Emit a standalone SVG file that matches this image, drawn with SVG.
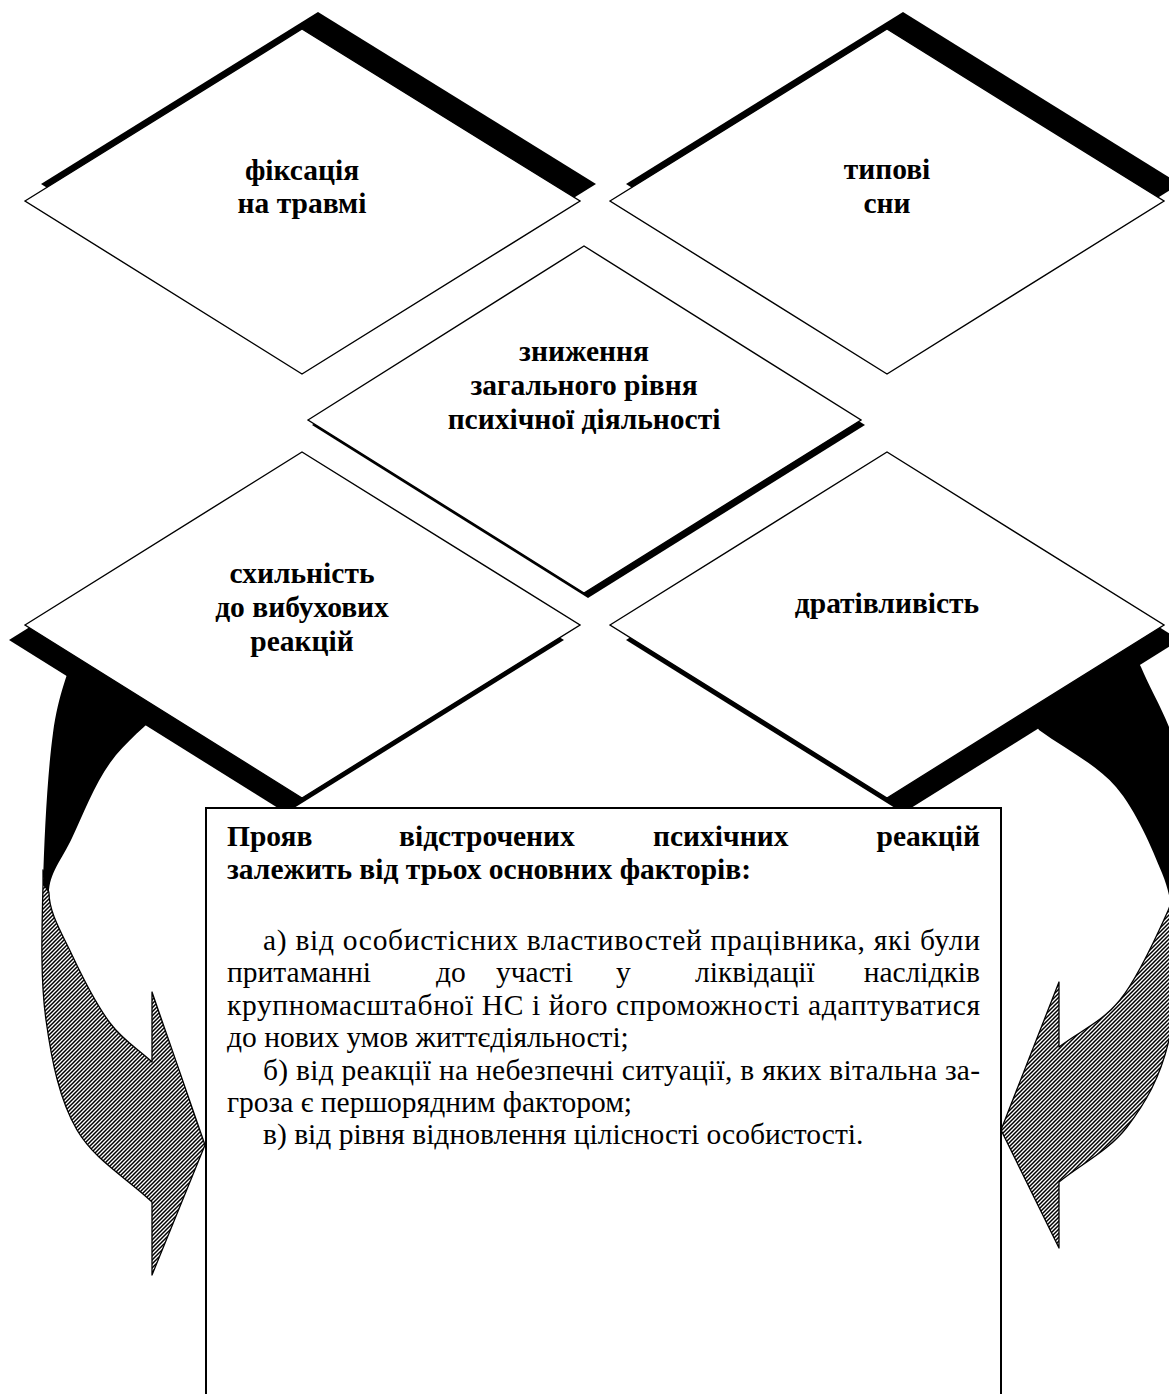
<svg xmlns="http://www.w3.org/2000/svg" width="1169" height="1394" viewBox="0 0 1169 1394">
<defs>
<pattern id="hatch" patternUnits="userSpaceOnUse" width="4" height="4">
<rect width="4" height="4" fill="#fff"/>
<path d="M-1,1 L1,-1 M0,4 L4,0 M3,5 L5,3" stroke="#000" stroke-width="1.5"/>
</pattern>
<style>
.dia{fill:#fff;stroke:#000;stroke-width:1.4}
.sh{fill:#000}
.hat{fill:url(#hatch);stroke:#000;stroke-width:1.3;stroke-linejoin:round}
.blk{fill:#000}
.lbl{font-weight:bold;font-size:29.5px;text-anchor:middle;fill:#000}
.bt{font-size:29.5px;fill:#000}
.bb{font-weight:bold}
.box{fill:#fff;stroke:#000;stroke-width:2}
</style>
</defs>
<rect width="1169" height="1394" fill="#fff"/>

<g id="connectors">
<g id="arrow-left">
<path class="hat" d="M43,870 L43,885 C41.8,932.8 40.3,979.2 46,1020 C51.7,1060.8 59.3,1099.7 77,1130 C94.7,1160.3 127,1178 152,1202 L152,1275 L205,1145 L152,992 L152,1062 C138,1049 123.3,1040.8 110,1023 C96.7,1005.2 82.2,976.7 72,955 C61.8,933.3 49,912.5 49,893 Z"/>
<path class="blk" d="M76,645 C68.3,674.3 58.5,693 53,733 C47.5,773 44.2,837.2 43,885 L49,893 C49,873.5 61.8,859.7 72,838 C82.2,816.3 94.5,784.8 110,763 C125.5,741.2 146.7,725.7 165,707 Z"/>
</g>
<g id="arrow-right">
<path class="hat" d="M1180,900 C1176.3,946.7 1177.8,1002.2 1169,1040 C1160.2,1077.8 1145.3,1103.3 1127,1127 C1108.7,1150.7 1081.7,1163.7 1059,1182 L1059,1248 L1001,1130 L1059,982 L1059,1047 C1079.3,1031.3 1102,1022.3 1120,1000 C1138,977.7 1157.3,934.7 1167,913 C1176.7,891.3 1174.3,884.3 1178,870 L1190,870 L1190,900 Z"/>
<path class="blk" d="M1039,730 C1064.7,749 1095.5,763.2 1116,787 C1136.5,810.8 1152.2,849.2 1162,873 C1171.8,896.8 1170.7,911 1175,930 L1185,930 L1185,760 L1169,727 C1160,705 1148,684 1141,667 L1126,638 L1030,716 Z"/>
</g>
</g>

<g font-family="Liberation Serif, Times New Roman, serif">
<g id="node-fixation">
<polygon class="sh" points="41,184 318,12 596,184 318,357"/>
<polygon class="dia" points="25,201 302,29 580,201 302,374"/>
<text class="lbl" x="302" y="180">фіксація</text>
<text class="lbl" x="302" y="213">на травмі</text>
</g>

<g id="node-dreams">
<polygon class="sh" points="626,184 903,12 1180,184 903,357"/>
<polygon class="dia" points="610,201 887,29 1164,201 887,374"/>
<text class="lbl" x="887" y="179">типові</text>
<text class="lbl" x="887" y="213">сни</text>
</g>

<g id="node-decrease">
<polygon class="sh" points="312,425 588,251 865,425 588,598"/>
<polygon class="dia" points="308,420 584,246 861,420 584,593"/>
<text class="lbl" x="584" y="361">зниження</text>
<text class="lbl" x="584" y="395">загального рівня</text>
<text class="lbl" x="584" y="429">психічної діяльності</text>
</g>

<g id="node-explosive">
<polygon class="sh" points="9,640 286,467 564,640 286,813"/>
<polygon class="dia" points="25,625 302,452 580,625 302,798"/>
<text class="lbl" x="302" y="583">схильність</text>
<text class="lbl" x="302" y="617">до вибухових</text>
<text class="lbl" x="302" y="651">реакцій</text>
</g>

<g id="node-irritability">
<polygon class="sh" points="626,640 903,467 1180,640 903,813"/>
<polygon class="dia" points="610,625 887,452 1164,625 887,798"/>
<text class="lbl" x="887" y="613">дратівливість</text>
</g>

<g id="node-box">
<rect class="box" x="206" y="808" width="795" height="600"/>
<text class="bt bb" y="846"><tspan x="227">Прояв</tspan><tspan x="399">відстрочених</tspan><tspan x="653">психічних</tspan></text>
<text class="bt bb" x="980" y="846" text-anchor="end">реакцій</text>
<text class="bt bb" x="227" y="879">залежить від трьох основних факторів:</text>
<text class="bt" x="263" y="950" textLength="717" lengthAdjust="spacing">а) від особистісних властивостей працівника, які були</text>
<text class="bt" y="982"><tspan x="227">притаманні</tspan><tspan x="436">до</tspan><tspan x="496">участі</tspan><tspan x="616">у</tspan><tspan x="695">ліквідації</tspan></text>
<text class="bt" x="980" y="982" text-anchor="end">наслідків</text>
<text class="bt" x="227" y="1015" textLength="753" lengthAdjust="spacing">крупномасштабної НС і його спроможності адаптуватися</text>
<text class="bt" x="227" y="1047">до нових умов життєдіяльності;</text>
<text class="bt" x="263" y="1080" textLength="717" lengthAdjust="spacing">б) від реакції на небезпечні ситуації, в яких вітальна за-</text>
<text class="bt" x="227" y="1112">гроза є першорядним фактором;</text>
<text class="bt" x="263" y="1144">в) від рівня відновлення цілісності особистості.</text>
</g>
</g>
</svg>
